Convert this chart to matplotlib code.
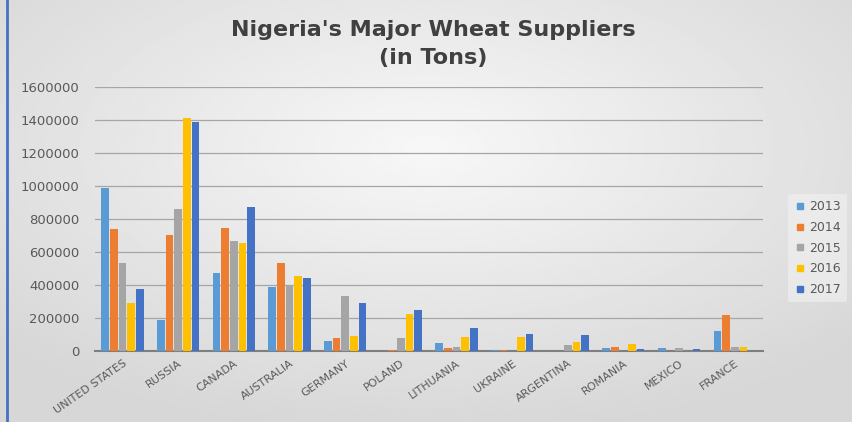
import numpy as np
import matplotlib.pyplot as plt
from matplotlib.lines import Line2D

countries = ["UNITED STATES", "RUSSIA", "CANADA", "AUSTRALIA", "GERMANY", "POLAND",
             "LITHUANIA", "UKRAINE", "ARGENTINA", "ROMANIA", "MEXICO", "FRANCE"]
years = ["2013", "2014", "2015", "2016", "2017"]

tons_2013 = [987000, 188000, 471000, 390000, 61000, 0, 52000, 6000, 0, 16000, 16000, 124000]
tons_2014 = [740000, 706000, 744000, 536000, 77000, 6000, 20000, 6000, 0, 26000, 0, 220000]
tons_2015 = [532000, 860000, 668000, 400000, 336000, 81000, 24000, 0, 38000, 0, 18000, 22000]
tons_2016 = [293000, 1412000, 657000, 453000, 93000, 225000, 86000, 88000, 54000, 42000, 0, 22000]
tons_2017 = [375000, 1386000, 872000, 441000, 289000, 249000, 140000, 102000, 96000, 10000, 10000, 0]

series = [tons_2013, tons_2014, tons_2015, tons_2016, tons_2017]
colors = ["#5B9BD5", "#ED7D31", "#A5A5A5", "#FFC000", "#4472C4"]

plt.rcParams['font.family'] = ['DejaVu Sans']

fig = plt.figure(figsize=(8.53, 4.22), dpi=100)

# soft radial gray background
bg = fig.add_axes([0, 0, 1, 1], zorder=-10)
yy, xx = np.mgrid[-1:1:200j, -1:1:400j]
r = np.sqrt(xx ** 2 + (yy + 0.3) ** 2)
bg.imshow(0.97 - 0.13 * np.clip(r / 1.4, 0, 1), cmap="gray", vmin=0, vmax=1,
          aspect="auto", extent=[0, 1, 0, 1])
bg.plot([0.008, 0.008], [0, 1], color="#4472C4", lw=2)
bg.set_xlim(0, 1)
bg.set_ylim(0, 1)
bg.axis("off")

ax = fig.add_axes([0.111, 0.168, 0.783, 0.626])
ax.patch.set_alpha(0)

x = np.arange(len(countries))
w = 0.155
for i, (vals, c) in enumerate(zip(series, colors)):
    ax.bar(x + (i - 2) * w, vals, w * 0.88, color=c, linewidth=0,
           label=years[i], zorder=3)

ax.set_xlim(-0.5, len(countries) - 0.5)
ax.set_ylim(0, 1600000)
ax.set_yticks(np.arange(0, 1600001, 200000))
ax.set_yticklabels([str(v) for v in range(0, 1600001, 200000)], color="#595959", fontsize=9.5)
ax.set_xticks(x)
ax.set_xticklabels(countries, rotation=35, ha="right", rotation_mode="anchor",
                   color="#595959", fontsize=8)
ax.tick_params(length=0, pad=5)
ax.tick_params(axis="y", pad=11)
ax.grid(axis="y", color="#a6a6a6", linewidth=0.9, zorder=0)
for s in ["top", "right", "left"]:
    ax.spines[s].set_visible(False)
ax.spines["bottom"].set_color("#7f7f7f")
ax.spines["bottom"].set_linewidth(1.5)

fig.text(0.508, 0.914, "Nigeria's Major Wheat Suppliers", ha="center", va="baseline",
         fontsize=16, fontweight="bold", color="#404040")
fig.text(0.508, 0.849, "(in Tons)", ha="center", va="baseline",
         fontsize=16, fontweight="bold", color="#404040")

handles = [Line2D([0], [0], marker="s", linestyle="none", markersize=5,
                  markerfacecolor=c, markeredgecolor=c) for c in colors]
leg = fig.legend(handles, years, loc="center", bbox_to_anchor=(0.958, 0.412),
                 frameon=True, fontsize=9, labelspacing=0.62, handletextpad=0.2,
                 borderpad=0.5, handlelength=1.0)
leg.get_frame().set_facecolor("#f2f2f2")
leg.get_frame().set_edgecolor("none")
leg.get_frame().set_alpha(0.6)
for t in leg.get_texts():
    t.set_color("#595959")

fig.savefig("out.png", dpi=100)
